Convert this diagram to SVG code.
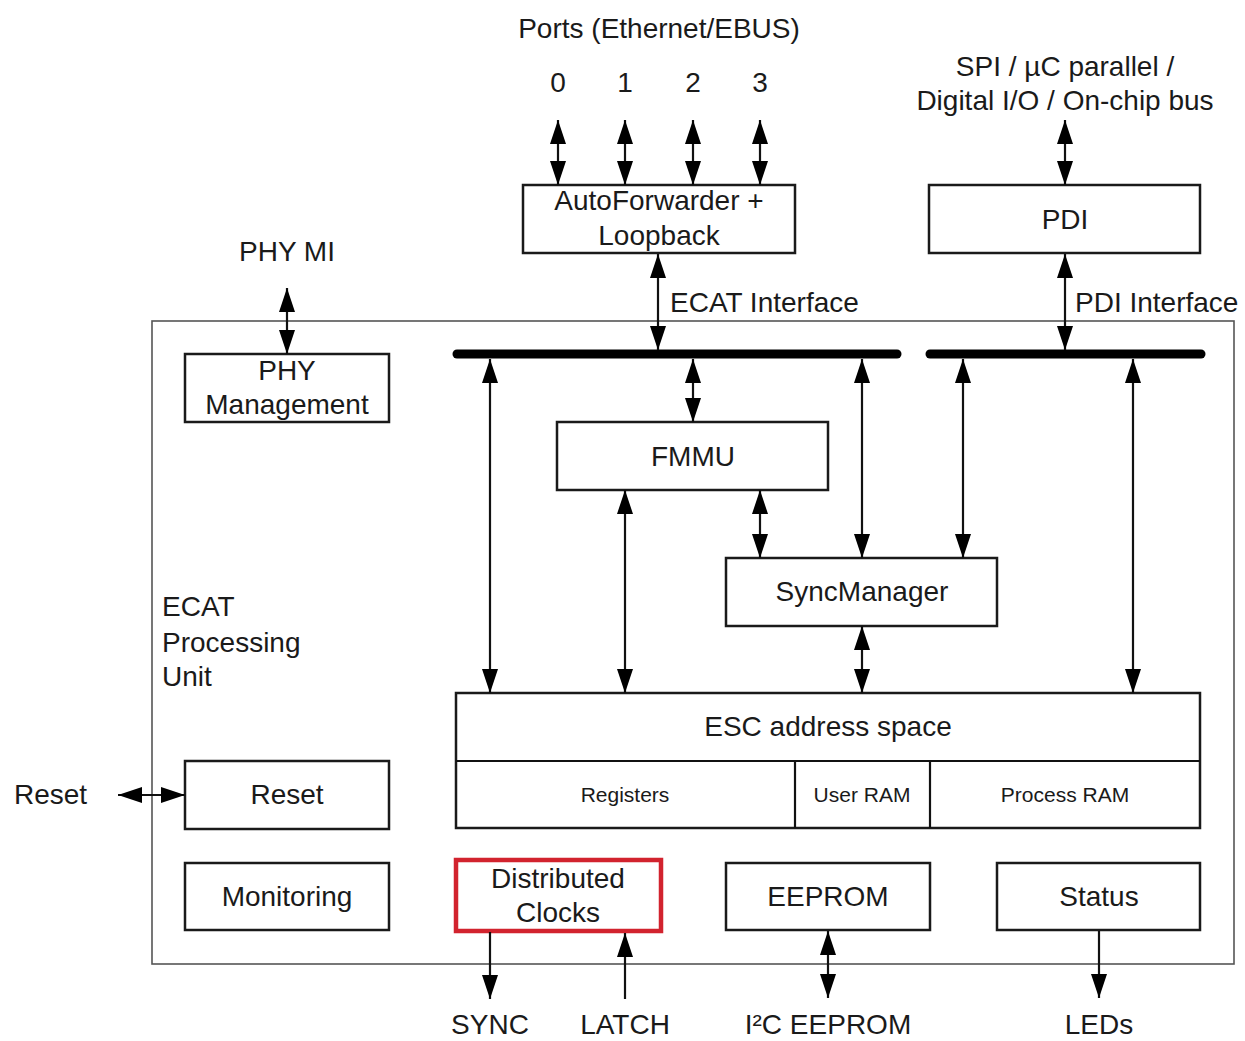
<svg xmlns="http://www.w3.org/2000/svg" width="1245" height="1041" viewBox="0 0 1245 1041">
  <style>
    text { font-family: "Liberation Sans", Arial, sans-serif; font-size: 28px; fill: #1a1a1a; }
    .c { text-anchor: middle; }
    .sm { font-size: 21px; }
    .box { fill: #fff; stroke: #1a1a1a; stroke-width: 2.5; }
    .red { fill: #fff; stroke: #d2232e; stroke-width: 4.5; }
    .ln { stroke: #111; stroke-width: 2.2; fill: none; }
    .bus { stroke: #000; stroke-width: 9; stroke-linecap: round; }
  </style>
  <defs>
    <marker id="ah" viewBox="0 0 24 16" refX="24" refY="8" markerWidth="24" markerHeight="16" markerUnits="userSpaceOnUse" orient="auto-start-reverse">
      <path d="M0,0 L24,8 L0,16 z" fill="#000"/>
    </marker>
  </defs>
  <rect width="1245" height="1041" fill="#fff"/>

  <!-- ECAT processing unit frame -->
  <rect id="ecat-frame" x="152" y="321" width="1082" height="643" fill="none" stroke="#555" stroke-width="1.6"/>

  <!-- external labels -->
  <g id="labels">
    <text class="c" x="659" y="38">Ports (Ethernet/EBUS)</text>
    <text class="c" x="558" y="92">0</text>
    <text class="c" x="625" y="92">1</text>
    <text class="c" x="693" y="92">2</text>
    <text class="c" x="760" y="92">3</text>
    <text class="c" x="1065" y="76">SPI / µC parallel /</text>
    <text class="c" x="1065" y="110">Digital I/O / On-chip bus</text>
    <text class="c" x="287" y="261">PHY MI</text>
    <text x="670" y="312">ECAT Interface</text>
    <text x="1075" y="312">PDI Interface</text>
    <text x="162" y="616">ECAT</text>
    <text x="162" y="652">Processing</text>
    <text x="162" y="686">Unit</text>
    <text x="14" y="804">Reset</text>
    <text class="c" x="490" y="1034">SYNC</text>
    <text class="c" x="625" y="1034">LATCH</text>
    <text class="c" x="828" y="1034">I²C EEPROM</text>
    <text class="c" x="1099" y="1034">LEDs</text>
  </g>

  <!-- nodes -->
  <g id="autoforwarder">
    <rect class="box" x="523" y="185" width="272" height="68"/>
    <text class="c" x="659" y="210">AutoForwarder +</text>
    <text class="c" x="659" y="245">Loopback</text>
  </g>
  <g id="pdi">
    <rect class="box" x="929" y="185" width="271" height="68"/>
    <text class="c" x="1065" y="229">PDI</text>
  </g>
  <g id="phy-management">
    <rect class="box" x="185" y="354" width="204" height="68"/>
    <text class="c" x="287" y="380">PHY</text>
    <text class="c" x="287" y="414">Management</text>
  </g>
  <g id="fmmu">
    <rect class="box" x="557" y="422" width="271" height="68"/>
    <text class="c" x="693" y="466">FMMU</text>
  </g>
  <g id="syncmanager">
    <rect class="box" x="726" y="558" width="271" height="68"/>
    <text class="c" x="862" y="601">SyncManager</text>
  </g>
  <g id="esc-address-space">
    <rect class="box" x="456" y="693" width="744" height="135"/>
    <line class="ln" x1="456" y1="761" x2="1200" y2="761" stroke-width="2.5"/>
    <line class="ln" x1="795" y1="761" x2="795" y2="828" stroke-width="2.5"/>
    <line class="ln" x1="930" y1="761" x2="930" y2="828" stroke-width="2.5"/>
    <text class="c" x="828" y="736">ESC address space</text>
    <text class="c sm" x="625" y="802">Registers</text>
    <text class="c sm" x="862" y="802">User RAM</text>
    <text class="c sm" x="1065" y="802">Process RAM</text>
  </g>
  <g id="reset">
    <rect class="box" x="185" y="761" width="204" height="68"/>
    <text class="c" x="287" y="804">Reset</text>
  </g>
  <g id="monitoring">
    <rect class="box" x="185" y="863" width="204" height="67"/>
    <text class="c" x="287" y="906">Monitoring</text>
  </g>
  <g id="distributed-clocks">
    <rect class="red" x="456" y="860" width="205" height="71"/>
    <text class="c" x="558" y="888">Distributed</text>
    <text class="c" x="558" y="922">Clocks</text>
  </g>
  <g id="eeprom">
    <rect class="box" x="726" y="863" width="204" height="67"/>
    <text class="c" x="828" y="906">EEPROM</text>
  </g>
  <g id="status">
    <rect class="box" x="997" y="863" width="203" height="67"/>
    <text class="c" x="1099" y="906">Status</text>
  </g>

  <!-- buses and connectors -->
  <g id="connectors">
    <line class="bus" x1="457" y1="354" x2="897" y2="354"/>
    <line class="bus" x1="930" y1="354" x2="1201" y2="354"/>

    <line class="ln" x1="558" y1="120" x2="558" y2="185" marker-start="url(#ah)" marker-end="url(#ah)"/>
    <line class="ln" x1="625" y1="120" x2="625" y2="185" marker-start="url(#ah)" marker-end="url(#ah)"/>
    <line class="ln" x1="693" y1="120" x2="693" y2="185" marker-start="url(#ah)" marker-end="url(#ah)"/>
    <line class="ln" x1="760" y1="120" x2="760" y2="185" marker-start="url(#ah)" marker-end="url(#ah)"/>
    <line class="ln" x1="1065" y1="120" x2="1065" y2="185" marker-start="url(#ah)" marker-end="url(#ah)"/>

    <line class="ln" x1="287" y1="288" x2="287" y2="354" marker-start="url(#ah)" marker-end="url(#ah)"/>
    <line class="ln" x1="658" y1="254" x2="658" y2="350" marker-start="url(#ah)" marker-end="url(#ah)"/>
    <line class="ln" x1="1065" y1="254" x2="1065" y2="350" marker-start="url(#ah)" marker-end="url(#ah)"/>

    <line class="ln" x1="490" y1="359" x2="490" y2="693" marker-start="url(#ah)" marker-end="url(#ah)"/>
    <line class="ln" x1="693" y1="359" x2="693" y2="422" marker-start="url(#ah)" marker-end="url(#ah)"/>
    <line class="ln" x1="862" y1="359" x2="862" y2="558" marker-start="url(#ah)" marker-end="url(#ah)"/>
    <line class="ln" x1="963" y1="359" x2="963" y2="558" marker-start="url(#ah)" marker-end="url(#ah)"/>
    <line class="ln" x1="1133" y1="359" x2="1133" y2="693" marker-start="url(#ah)" marker-end="url(#ah)"/>
    <line class="ln" x1="625" y1="490" x2="625" y2="693" marker-start="url(#ah)" marker-end="url(#ah)"/>
    <line class="ln" x1="760" y1="490" x2="760" y2="558" marker-start="url(#ah)" marker-end="url(#ah)"/>
    <line class="ln" x1="862" y1="626" x2="862" y2="693" marker-start="url(#ah)" marker-end="url(#ah)"/>

    <line class="ln" x1="118" y1="795" x2="185" y2="795" marker-start="url(#ah)" marker-end="url(#ah)"/>

    <line class="ln" x1="490" y1="932" x2="490" y2="999" marker-end="url(#ah)"/>
    <line class="ln" x1="625" y1="999" x2="625" y2="933" marker-end="url(#ah)"/>
    <line class="ln" x1="828" y1="931" x2="828" y2="998" marker-start="url(#ah)" marker-end="url(#ah)"/>
    <line class="ln" x1="1099" y1="931" x2="1099" y2="998" marker-end="url(#ah)"/>
  </g>
</svg>
